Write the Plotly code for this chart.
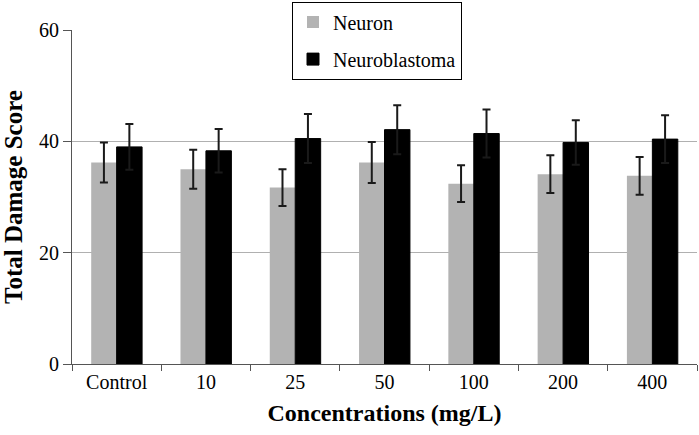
import plotly.graph_objects as go

categories = ["Control", "10", "25", "50", "100", "200", "400"]
neuron = [36.2, 35.0, 31.7, 36.2, 32.4, 34.1, 33.8]
neuron_err = [3.6, 3.5, 3.3, 3.7, 3.3, 3.4, 3.4]
neuroblastoma = [39.0, 38.3, 40.5, 42.1, 41.4, 39.8, 40.4]
neuroblastoma_err = [4.1, 3.9, 4.4, 4.4, 4.3, 4.0, 4.3]
y_ticks = [0, 20, 40, 60]

font_family = "Liberation Serif"

fig = go.Figure()
fig.add_trace(go.Bar(
    name="Neuron", x=categories, y=neuron,
    marker=dict(color="#b3b3b3", line=dict(width=0)),
    error_y=dict(type="data", array=neuron_err, color="#1a1a1a", thickness=2, width=4),
    legendgroup="a",
))
fig.add_trace(go.Bar(
    name="Neuroblastoma", x=categories, y=neuroblastoma,
    marker=dict(color="#000000", line=dict(color="#000000", width=1)),
    error_y=dict(type="data", array=neuroblastoma_err, color="#1a1a1a", thickness=2, width=4),
    legendgroup="b",
))

fig.update_layout(
    width=699, height=435,
    margin=dict(l=72, r=2, t=30, b=71),
    paper_bgcolor="white", plot_bgcolor="white",
    barmode="group", bargap=0.43, bargroupgap=0,
    font=dict(family=font_family, color="black", size=18),
    showlegend=True,
    legend=dict(
        x=0.352, y=1.085, xanchor="left", yanchor="top",
        bgcolor="white", bordercolor="black", borderwidth=1,
        font=dict(family=font_family, size=20, color="black"),
        traceorder="grouped", tracegroupgap=8,
    ),
    xaxis=dict(
        type="category", automargin=False,
        showline=True, linecolor="#555555", linewidth=1,
        ticks="outside", tickson="boundaries", ticklen=6, tickcolor="#555555",
        showgrid=False,
        tickfont=dict(family=font_family, size=20),
        title=dict(text="<b>Concentrations (mg/L)</b>", font=dict(family=font_family, size=24), standoff=12),
    ),
    yaxis=dict(
        range=[0, 60], tickvals=y_ticks, automargin=False,
        showline=True, linecolor="#555555", linewidth=1,
        ticks="outside", ticklen=8, tickcolor="#555555",
        showgrid=True, gridcolor="#b0b0b0", gridwidth=1,
        zeroline=False,
        tickfont=dict(family=font_family, size=20),
        title=dict(text="<b>Total Damage Score</b>", font=dict(family=font_family, size=25), standoff=14),
    ),
)

fig.write_html(
    "out.html",
    config={"displayModeBar": False},
    post_script="document.body.style.margin='0';document.body.style.padding='0';",
)
